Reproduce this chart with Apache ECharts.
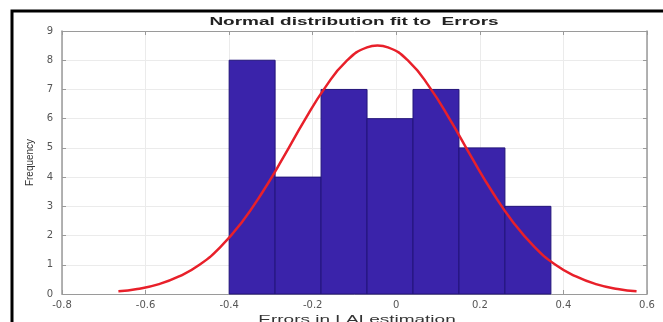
<!DOCTYPE html>
<html>
<head>
<meta charset="utf-8">
<script src="https://cdn.jsdelivr.net/npm/echarts@6/dist/echarts.min.js"></script>
<style>
html,body{margin:0;padding:0;background:#fff;}
#chart{width:663px;height:322px;}
</style>
</head>
<body>
<div id="chart"></div>
<script>
// Histogram bins (edges) and counts
var binEdges = [-0.4, -0.29, -0.18, -0.07, 0.04, 0.15, 0.26, 0.37];
var counts = [8, 4, 7, 6, 7, 5, 3];

// Fitted normal curve
var curveX = [-0.665, -0.62, -0.57, -0.52, -0.47, -0.42, -0.37, -0.32, -0.27, -0.22, -0.17, -0.12, -0.07, -0.045, -0.02, 0.03, 0.08, 0.13, 0.18, 0.23, 0.28, 0.33, 0.38, 0.43, 0.48, 0.53, 0.575];
var curveY = [0.09, 0.17, 0.33, 0.60, 1.01, 1.62, 2.45, 3.49, 4.68, 5.93, 7.07, 7.96, 8.44, 8.50, 8.44, 7.96, 7.07, 5.93, 4.68, 3.49, 2.45, 1.62, 1.01, 0.60, 0.33, 0.17, 0.09];

// Axis ticks
var xTicks = [-0.8, -0.6, -0.4, -0.2, 0, 0.2, 0.4, 0.6];
var yTicks = [0, 1, 2, 3, 4, 5, 6, 7, 8, 9];

var titleText = 'Normal distribution fit to  Errors';
var xName = 'Errors in LAI estimation';
var yName = 'Frequency';

var chart = echarts.init(document.getElementById('chart'), null, {renderer: 'canvas'});

var xMin = xTicks[0], xMax = xTicks[xTicks.length - 1];
var xStep = Math.round((xTicks[1] - xTicks[0]) * 10) / 10;
var yMin = yTicks[0], yMax = yTicks[yTicks.length - 1];
var yStep = yTicks[1] - yTicks[0];

function fmtX(v) { return String(Math.round(v * 10) / 10); }

var axisGray = '#9a9a9a';
var labelColor = '#555';

var option = {
  animation: false,
  backgroundColor: '#fff',
  grid: {left: 62, right: 16, top: 31, bottom: 28, containLabel: false},
  graphic: [
    {type: 'rect', silent: true, shape: {x: 12, y: 11, width: 720, height: 400},
     style: {fill: 'none', stroke: '#000', lineWidth: 3}},
    {type: 'text', x: 354, y: 22, scaleX: 1.9, silent: true,
     style: {text: titleText, x: 0, y: 0, textAlign: 'center', textVerticalAlign: 'middle',
             font: 'bold 10px "Liberation Sans", Arial, sans-serif', fill: '#222'}},
    {type: 'text', x: 357, y: 320, scaleX: 1.9, silent: true,
     style: {text: xName, x: 0, y: 0, textAlign: 'center', textVerticalAlign: 'middle',
             font: '10px "Liberation Sans", Arial, sans-serif', fill: '#333'}}
  ],
  xAxis: [
    {type: 'value', min: xMin, max: xMax, interval: xStep, position: 'bottom',
     axisLine: {show: true, onZero: false, lineStyle: {color: axisGray, width: 1}},
     axisTick: {show: true, inside: true, length: 4, lineStyle: {color: axisGray}},
     axisLabel: {color: labelColor, fontSize: 10, fontFamily: 'DejaVu Sans', margin: 6, formatter: fmtX},
     splitLine: {show: true, lineStyle: {color: '#ebebeb', width: 1}}},
    {type: 'value', min: xMin, max: xMax, interval: xStep, position: 'top',
     axisLine: {show: true, onZero: false, lineStyle: {color: axisGray, width: 1}},
     axisTick: {show: true, inside: true, length: 4, lineStyle: {color: axisGray}},
     axisLabel: {show: false}, splitLine: {show: false}}
  ],
  yAxis: [
    {type: 'value', min: yMin, max: yMax, interval: yStep, position: 'left',
     name: yName, nameLocation: 'middle', nameGap: 27,
     nameTextStyle: {color: '#333', fontSize: 10, fontFamily: '"Liberation Sans", Arial, sans-serif'},
     axisLine: {show: true, onZero: false, lineStyle: {color: axisGray, width: 1.5}},
     axisTick: {show: true, inside: true, length: 4, lineStyle: {color: axisGray}},
     axisLabel: {color: labelColor, fontSize: 10, fontFamily: 'DejaVu Sans', margin: 9},
     splitLine: {show: true, lineStyle: {color: '#ebebeb', width: 1}}},
    {type: 'value', min: yMin, max: yMax, interval: yStep, position: 'right',
     axisLine: {show: true, onZero: false, lineStyle: {color: axisGray, width: 1.5}},
     axisTick: {show: true, inside: true, length: 4, lineStyle: {color: axisGray}},
     axisLabel: {show: false}, splitLine: {show: false}}
  ],
  series: [
    {
      type: 'custom',
      xAxisIndex: 0, yAxisIndex: 0,
      z: 2,
      data: counts.map(function (c, i) { return [binEdges[i], binEdges[i + 1], c]; }),
      encode: {x: [0, 1], y: 2},
      renderItem: function (params, api) {
        var x0 = api.value(0), x1 = api.value(1), h = api.value(2);
        var p0 = api.coord([x0, 0]);
        var p1 = api.coord([x1, h]);
        return {
          type: 'rect',
          shape: {x: p0[0], y: p1[1], width: p1[0] - p0[0], height: p0[1] - p1[1]},
          style: {fill: '#3a23aa', stroke: '#22147a', lineWidth: 1}
        };
      }
    },
    {
      type: 'line',
      xAxisIndex: 0, yAxisIndex: 0,
      z: 5,
      data: curveX.map(function (x, i) { return [x, curveY[i]]; }),
      smooth: true,
      showSymbol: false,
      symbol: 'none',
      lineStyle: {color: '#e8202a', width: 2.5}
    }
  ]
};
chart.setOption(option);
</script>
</body>
</html>
